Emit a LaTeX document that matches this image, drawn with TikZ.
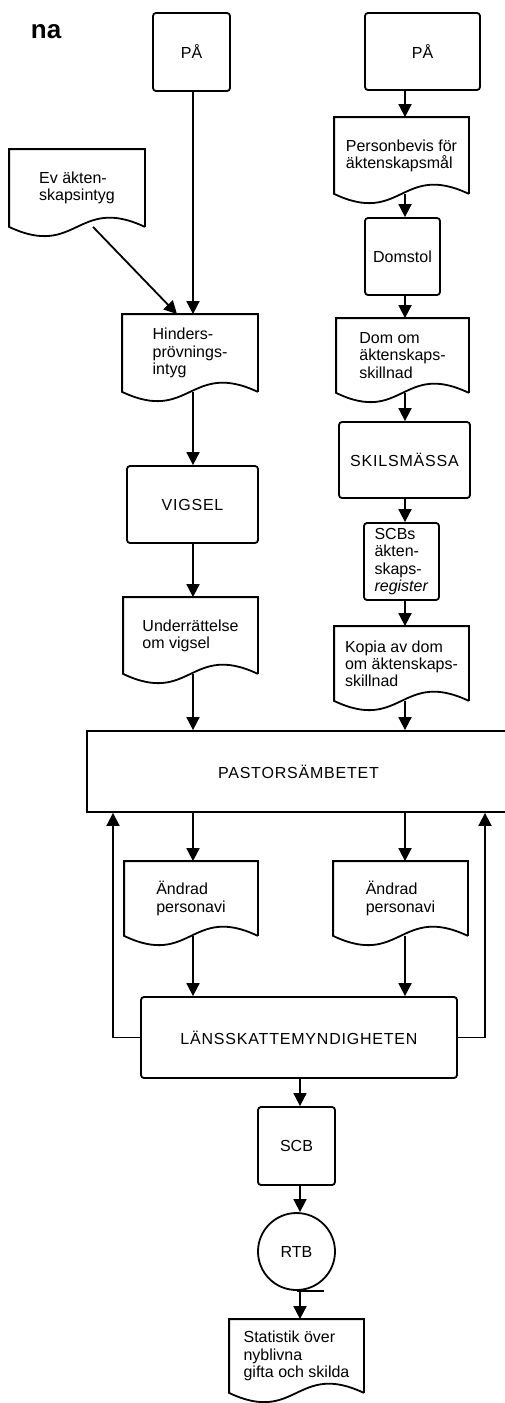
\documentclass[tikz,border=0pt]{standalone}
\usepackage{fontspec}
\setmainfont{Liberation Sans}
\newfontfamily\capsfont[LetterSpace=5]{Liberation Sans}
\usetikzlibrary{arrows.meta,calc}

\begin{document}
\begin{tikzpicture}[x=0.5pt,y=-0.5pt,line width=0.9pt,
  font=\fontsize{8}{8.6}\selectfont,
  box/.style={draw,rectangle,rounded corners=1.5pt,inner sep=1pt,align=center},
  doc/.style={rectangle,inner sep=1pt,align=left},
  reel/.style={draw,circle,inner sep=0pt,minimum size=38.5pt},
  arr/.style={-{Triangle[length=6.5pt,width=6.5pt]}},
  caps/.style={font=\fontsize{8}{8.6}\capsfont}]
 \useasboundingbox (0,0) rectangle (504,1403);
 \coordinate (colL) at (193,0);
 \coordinate (colR) at (405,0);
 \coordinate (colM) at (300,0);
 \coordinate (fbL) at (113,0);
 \coordinate (fbR) at (485,0);

 \node[anchor=base west,inner sep=0pt,font=\fontsize{13}{15}\selectfont\bfseries] (title) at (30,38) {na};

 % vigsel
 \node[box,minimum width=38.5pt,minimum height=39pt] (pa1) at (191.5,52) {PÅ};
 \node[doc,minimum width=67pt,minimum height=38pt] (ev) at (77,188) {Ev äkten-\\skapsintyg};
 \node[doc,minimum width=67pt,minimum height=38pt] (hinder) at (190,353) {Hinders-\\prövnings-\\intyg};
 \node[box,caps,minimum width=65.5pt,minimum height=38.5pt] (vigsel) at (192.5,504.5) {VIGSEL};
 \node[doc,minimum width=66.5pt,minimum height=37.5pt] (under) at (190.5,635.5) {Underrättelse\\om vigsel};

 % skilsmassa
 \node[box,minimum width=57.5pt,minimum height=38.5pt] (pa2) at (422.5,51.5) {PÅ};
 \node[doc,minimum width=66.5pt,minimum height=37.5pt] (persbev) at (401.5,155.5) {Personbevis för\\äktenskapsmål};
 \node[box,minimum width=37.5pt,minimum height=38.5pt] (domstol) at (402.5,256.5) {Domstol};
 \node[doc,minimum width=65.5pt,minimum height=36.5pt] (dom) at (402.5,355.5) {Dom om\\äktenskaps-\\skillnad};
 \node[box,caps,minimum width=65.5pt,minimum height=38pt] (skils) at (404.5,460) {SKILSMÄSSA};
 \node[box,align=left,minimum width=37.5pt,minimum height=38.5pt] (scbreg) at (401.5,561.5) {SCBs\\äkten-\\skaps-\\\textit{register}};
 \node[doc,minimum width=66.5pt,minimum height=36.5pt] (kopia) at (401.5,663.5) {Kopia av dom\\om äktenskaps-\\skillnad};

 \node[box,caps,rounded corners=0pt,minimum width=211.5pt,minimum height=40.5pt] (pastor) at (298.5,771.5) {PASTORSÄMBETET};
 \node[doc,minimum width=66pt,minimum height=36.5pt] (andr1) at (191,898.5) {Ändrad\\personavi};
 \node[doc,minimum width=66.5pt,minimum height=36.5pt] (andr2) at (400.5,898.5) {Ändrad\\personavi};
 \node[box,caps,minimum width=158pt,minimum height=40.5pt] (lans) at (299,1037.5) {LÄNSSKATTEMYNDIGHETEN};
 \node[box,minimum width=38.5pt,minimum height=39pt] (scb) at (296.5,1146) {SCB};
 \node[reel] (rtb) at (296.5,1251.5) {RTB};
 \node[doc,minimum width=66.5pt,minimum height=36pt] (stat) at (296.5,1356) {Statistik över\\nyblivna\\gifta och skilda};

 \foreach \d in {ev,hinder,under,persbev,dom,kopia,andr1,andr2,stat}
  \draw (\d.south east) -- (\d.north east) -- (\d.north west) -- (\d.south west)
   .. controls ($(\d.south)+(0,32)$) and ($(\d.south)+(0,-32)$) .. (\d.south east);

 \draw[arr] (pa1.south -| colL) -- (hinder.north -| colL);
 \draw[arr] ([xshift=8pt]ev.south) -- ([xshift=-6.5pt]hinder.north);
 \draw[arr] (hinder.south -| colL) -- (vigsel.north -| colL);
 \draw[arr] (vigsel.south -| colL) -- (under.north -| colL);
 \draw[arr] (under.south -| colL) -- (pastor.north -| colL);

 \draw[arr] (pa2.south -| colR) -- (persbev.north -| colR);
 \draw[arr] (persbev.south -| colR) -- (domstol.north -| colR);
 \draw[arr] (domstol.south -| colR) -- (dom.north -| colR);
 \draw[arr] (dom.south -| colR) -- (skils.north -| colR);
 \draw[arr] (skils.south -| colR) -- (scbreg.north -| colR);
 \draw[arr] (scbreg.south -| colR) -- (kopia.north -| colR);
 \draw[arr] (kopia.south -| colR) -- (pastor.north -| colR);

 \draw[arr] (pastor.south -| colL) -- (andr1.north -| colL);
 \draw[arr] (pastor.south -| colR) -- (andr2.north -| colR);
 \draw[arr] (andr1.south -| colL) -- (lans.north -| colL);
 \draw[arr] (andr2.south -| colR) -- (lans.north -| colR);
 \draw[arr] (lans.west) -- (lans.west -| fbL) -- (pastor.south -| fbL);
 \draw[arr] (lans.east) -- (lans.east -| fbR) -- (pastor.south -| fbR);

 \draw[arr] (lans.south -| colM) -- (scb.north -| colM);
 \draw[arr] (scb.south -| colM) -- (rtb.north -| colM);
 \draw (rtb.south) -- ++(27,0);
 \draw[arr] (rtb.south -| colM) -- (stat.north -| colM);
\end{tikzpicture}
\end{document}
